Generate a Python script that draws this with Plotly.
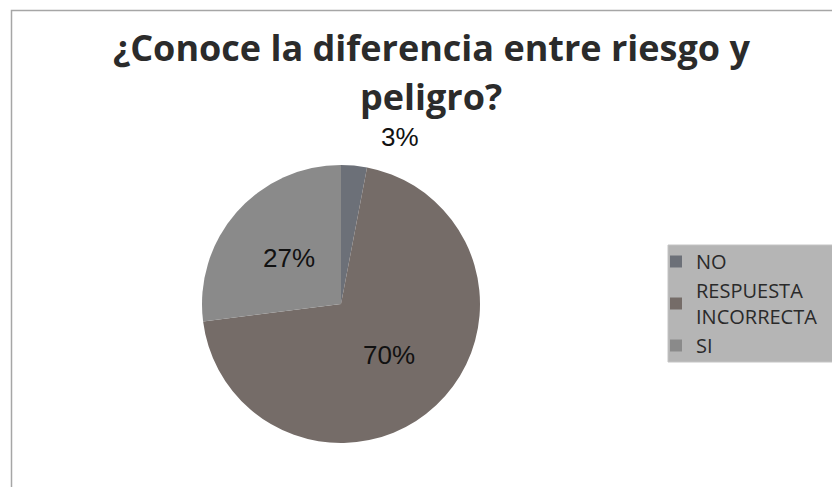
import math
import plotly.graph_objects as go

# Survey answers to "¿Conoce la diferencia entre riesgo y peligro?"
categories = ["NO", "RESPUESTA<br>INCORRECTA", "SI"]
percentages = [3, 70, 27]
slice_colors = ["#6c7078", "#756c68", "#8a8a8a"]
title_lines = ["¿Conoce la diferencia entre riesgo y", "peligro?"]

W, H = 832, 487
LABEL_FONT = dict(family="Liberation Sans, Arial, sans-serif", size=26, color="#111111")

# pie placement in pixels
CX, CY, R = 341, 304, 139

fig = go.Figure(
    go.Pie(
        labels=categories,
        values=percentages,
        sort=False,
        direction="clockwise",
        rotation=0,
        marker=dict(colors=slice_colors, line=dict(width=0)),
        textinfo="none",
        domain=dict(x=[(CX - R) / W, (CX + R) / W], y=[1 - (CY + R) / H, 1 - (CY - R) / H]),
        hoverinfo="label+percent",
    )
)

# value labels: big slices get theirs at half radius along the slice's mid-angle
total = sum(percentages)
start = 0.0
for i, v in enumerate(percentages):
    mid = (start + v / 2) / total * 2 * math.pi
    start += v
    if i == 0:
        # small slice label sits above the pie
        px, py = 400, 137
    else:
        px = CX + 0.5 * R * math.sin(mid)
        py = CY - 0.5 * R * math.cos(mid)
    fig.add_annotation(
        x=px / W, y=1 - py / H, xref="paper", yref="paper",
        xanchor="center", yanchor="middle",
        text=f"{v}%", showarrow=False, font=LABEL_FONT,
    )

# two-line bold title
for line, yc in zip(title_lines, [47, 96]):
    fig.add_annotation(
        x=431 / W, y=1 - yc / H, xref="paper", yref="paper",
        xanchor="center", yanchor="middle",
        text=f"<b>{line}</b>", showarrow=False,
        font=dict(family="Open Sans, sans-serif", size=36, color="#2b2b2b"),
    )

# chart frame (left and top edges visible)
fig.add_shape(
    type="rect", xref="paper", yref="paper",
    x0=11.5 / W, x1=1.2, y0=-0.2, y1=1 - 10.5 / H,
    line=dict(color="#a6a6a6", width=1.5), fillcolor="rgba(0,0,0,0)", layer="below",
)

# legend panel background
fig.add_shape(
    type="rect", xref="paper", yref="paper",
    x0=668 / W, x1=1.05, y0=1 - 362 / H, y1=1 - 245 / H,
    line=dict(color="#c4c4c4", width=1), fillcolor="#b5b5b5", layer="below",
)

fig.update_layout(
    width=W, height=H,
    margin=dict(l=0, r=0, t=0, b=0),
    paper_bgcolor="white",
    plot_bgcolor="white",
    showlegend=True,
    legend=dict(
        x=656 / W, xanchor="left",
        y=1 - 242 / H, yanchor="top",
        bgcolor="rgba(0,0,0,0)",
        borderwidth=0,
        font=dict(family="Open Sans, sans-serif", size=20, color="#2a2a2a"),
        itemwidth=30,
        tracegroupgap=0,
    ),
)

fig.write_html("out.html")
